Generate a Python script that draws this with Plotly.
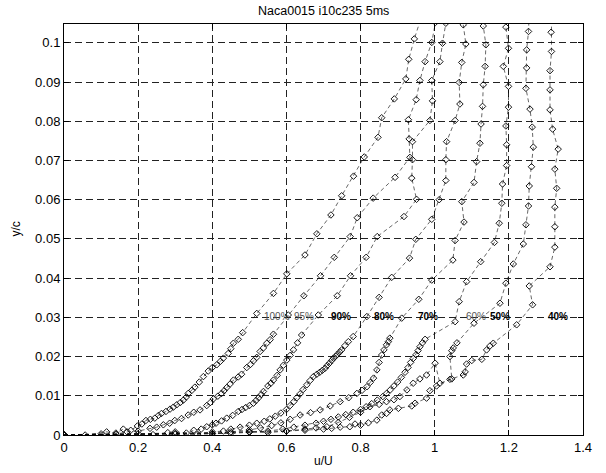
import plotly.graph_objects as go

# Boundary-layer velocity profiles, NACA 0015, station = % chord
stations = ["100%", "95%", "90%", "80%", "70%", "60%", "50%", "40%"]

u_100 = [0.0, 0.057, 0.115, 0.140, 0.160, 0.180, 0.198, 0.210, 0.221, 0.233, 0.245, 0.255, 0.263, 0.275, 0.286, 0.295, 0.304, 0.314, 0.322, 0.330, 0.335, 0.345, 0.353, 0.365, 0.376, 0.389, 0.400, 0.412, 0.422, 0.430, 0.443, 0.450, 0.457, 0.470, 0.482,
         0.520, 0.565, 0.601, 0.650, 0.682, 0.720, 0.749, 0.781, 0.810, 0.847, 0.857, 0.891, 0.922, 0.930, 0.945, 0.962]
y_100 = [0.0, 0.0, 0.0008, 0.0005, 0.0015, 0.0012, 0.0023, 0.0028, 0.0037, 0.0040, 0.0043, 0.0050, 0.0055, 0.0060, 0.0066, 0.0071, 0.0077, 0.0083, 0.0089, 0.0097, 0.0106, 0.0114, 0.0122, 0.0135, 0.0149, 0.0163, 0.0172, 0.0179, 0.0188, 0.0196, 0.0208, 0.0220, 0.0234, 0.0244, 0.0261,
         0.0310, 0.0361, 0.0411, 0.0459, 0.0513, 0.0561, 0.0610, 0.0660, 0.0709, 0.0759, 0.0809, 0.0857, 0.0908, 0.0958, 0.1010, 0.1060]

u_95 = [0.0, 0.100, 0.140, 0.170, 0.200, 0.232, 0.250, 0.268, 0.285, 0.299, 0.317, 0.335, 0.350, 0.367, 0.385, 0.395, 0.403, 0.415, 0.425, 0.432, 0.439, 0.448, 0.457, 0.470, 0.479, 0.493, 0.503, 0.511, 0.520, 0.529, 0.538, 0.547, 0.556, 0.565,
        0.605, 0.647, 0.692, 0.729, 0.772, 0.791, 0.834, 0.893, 0.933, 0.931, 0.929, 0.950, 0.960, 0.974, 0.992, 1.002]
y_95 = [0.0, 0.0003, 0.0002, 0.0008, 0.0010, 0.0017, 0.0020, 0.0026, 0.0030, 0.0037, 0.0042, 0.0051, 0.0058, 0.0064, 0.0075, 0.0083, 0.0092, 0.0099, 0.0106, 0.0113, 0.0121, 0.0130, 0.0140, 0.0148, 0.0155, 0.0172, 0.0180, 0.0189, 0.0198, 0.0213, 0.0222, 0.0234, 0.0243, 0.0257,
        0.0306, 0.0355, 0.0406, 0.0453, 0.0506, 0.0554, 0.0604, 0.0657, 0.0708, 0.0755, 0.0804, 0.0855, 0.0904, 0.0952, 0.1001, 0.1052]

u_90 = [0.0, 0.200, 0.240, 0.280, 0.300, 0.330, 0.350, 0.370, 0.385, 0.400, 0.410, 0.425, 0.439, 0.455, 0.470, 0.480, 0.490, 0.500, 0.511, 0.518, 0.525, 0.532, 0.538, 0.550, 0.558, 0.565, 0.575, 0.583, 0.592, 0.601, 0.610, 0.619, 0.630, 0.641,
        0.686, 0.737, 0.773, 0.815, 0.845, 0.917, 0.951, 0.938, 0.940, 0.940, 0.987, 0.994, 0.992, 1.014, 1.021, 1.030]
y_90 = [0.0, 0.0003, 0.0001, 0.0006, 0.0008, 0.0005, 0.0012, 0.0015, 0.0021, 0.0026, 0.0030, 0.0036, 0.0043, 0.0050, 0.0060, 0.0065, 0.0070, 0.0075, 0.0081, 0.0088, 0.0095, 0.0103, 0.0111, 0.0125, 0.0132, 0.0140, 0.0152, 0.0166, 0.0178, 0.0191, 0.0203, 0.0217, 0.0235, 0.0255,
        0.0306, 0.0355, 0.0406, 0.0453, 0.0506, 0.0557, 0.0601, 0.0655, 0.0702, 0.0748, 0.0802, 0.0852, 0.0904, 0.0952, 0.0999, 0.1050]

u_80 = [0.0, 0.300, 0.360, 0.400, 0.430, 0.450, 0.475, 0.500, 0.520, 0.540, 0.555, 0.570, 0.585, 0.600, 0.610, 0.620, 0.628, 0.637, 0.645, 0.655, 0.664, 0.673, 0.682, 0.690, 0.697, 0.704, 0.710, 0.716, 0.722, 0.727, 0.733, 0.738, 0.744, 0.749, 0.758, 0.767, 0.780,
        0.817, 0.850, 0.884, 0.932, 0.949, 0.992, 1.012, 1.030, 1.030, 1.032, 1.055, 1.068, 1.066, 1.073, 1.084, 1.077]
y_80 = [0.0, 0.0004, 0.0002, 0.0008, 0.0010, 0.0015, 0.0020, 0.0025, 0.0030, 0.0035, 0.0041, 0.0048, 0.0056, 0.0065, 0.0075, 0.0085, 0.0095, 0.0105, 0.0116, 0.0128, 0.0139, 0.0149, 0.0155, 0.0160, 0.0165, 0.0170, 0.0177, 0.0183, 0.0190, 0.0196, 0.0201, 0.0206, 0.0212, 0.0217, 0.0228, 0.0238, 0.0251,
        0.0302, 0.0351, 0.0402, 0.0451, 0.0499, 0.0550, 0.0600, 0.0649, 0.0702, 0.0748, 0.0802, 0.0844, 0.0899, 0.0950, 0.0997, 0.1046]

u_70 = [0.0, 0.400, 0.450, 0.500, 0.530, 0.560, 0.585, 0.610, 0.637, 0.665, 0.691, 0.718, 0.745, 0.768, 0.790, 0.804, 0.817, 0.826, 0.835, 0.844, 0.850, 0.857, 0.863, 0.870, 0.875, 0.879,
        0.911, 0.957, 0.992, 1.049, 1.055, 1.079, 1.073, 1.106, 1.113, 1.122, 1.125, 1.129, 1.131, 1.136, 1.138, 1.131]
y_70 = [0.0, 0.0003, 0.0008, 0.0013, 0.0018, 0.0024, 0.0031, 0.0040, 0.0051, 0.0057, 0.0064, 0.0074, 0.0085, 0.0095, 0.0106, 0.0114, 0.0123, 0.0134, 0.0145, 0.0166, 0.0185, 0.0204, 0.0217, 0.0230, 0.0238, 0.0247,
        0.0298, 0.0346, 0.0395, 0.0446, 0.0496, 0.0543, 0.0595, 0.0644, 0.0697, 0.0744, 0.0793, 0.0838, 0.0893, 0.0940, 0.0995, 0.1043]

u_60 = [0.0, 0.450, 0.500, 0.550, 0.590, 0.620, 0.650, 0.680, 0.700, 0.720, 0.740, 0.760, 0.780, 0.800, 0.815, 0.830, 0.845, 0.860, 0.870, 0.880, 0.890, 0.900, 0.910, 0.920, 0.928, 0.935, 0.942, 0.950, 0.955, 0.960, 0.967, 0.974,
        1.055, 1.066, 1.086, 1.124, 1.161, 1.174, 1.181, 1.183, 1.194, 1.194, 1.192, 1.199, 1.199, 1.185, 1.199, 1.192]
y_60 = [0.0, 0.0004, 0.0007, 0.0010, 0.0015, 0.0020, 0.0025, 0.0030, 0.0035, 0.0040, 0.0046, 0.0052, 0.0058, 0.0065, 0.0072, 0.0080, 0.0089, 0.0098, 0.0106, 0.0115, 0.0125, 0.0135, 0.0147, 0.0160, 0.0172, 0.0185, 0.0195, 0.0205, 0.0215, 0.0225, 0.0235, 0.0244,
        0.0289, 0.0340, 0.0391, 0.0442, 0.0491, 0.0540, 0.0591, 0.0640, 0.0687, 0.0740, 0.0788, 0.0836, 0.0889, 0.0940, 0.0986, 0.1040]

u_50 = [0.0, 0.500, 0.600, 0.650, 0.680, 0.709, 0.740, 0.770, 0.800, 0.825, 0.850, 0.870, 0.890, 0.906, 0.925, 0.942, 0.960, 0.978, 1.001, 1.014, 1.046, 1.041, 1.046, 1.050, 1.060,
        1.106, 1.176, 1.192, 1.212, 1.239, 1.246, 1.253, 1.255, 1.261, 1.266, 1.263, 1.257, 1.246, 1.248, 1.248, 1.253, 1.255]
y_50 = [0.0, 0.0008, 0.0010, 0.0015, 0.0018, 0.0021, 0.0032, 0.0045, 0.0058, 0.0072, 0.0078, 0.0085, 0.0090, 0.0098, 0.0115, 0.0132, 0.0143, 0.0153, 0.0183, 0.0132, 0.0143, 0.0200, 0.0215, 0.0222, 0.0235,
        0.0285, 0.0336, 0.0387, 0.0436, 0.0487, 0.0536, 0.0584, 0.0635, 0.0684, 0.0734, 0.0785, 0.0831, 0.0884, 0.0936, 0.0982, 0.1029, 0.1080]

u_40 = [0.0, 0.300, 0.400, 0.500, 0.550, 0.600, 0.650, 0.700, 0.722, 0.745, 0.771, 0.785, 0.800, 0.821, 0.844, 0.857, 0.870, 0.879, 0.902, 0.938, 0.947, 0.978, 0.987, 1.005, 1.041, 1.077, 1.082, 1.086, 1.100, 1.127, 1.140, 1.149, 1.158,
        1.221, 1.264, 1.255, 1.311, 1.324, 1.324, 1.324, 1.329, 1.324, 1.333, 1.318, 1.311, 1.311, 1.311, 1.315, 1.314, 1.315]
y_40 = [0.0, 0.0002, 0.0004, 0.0008, 0.0006, 0.0010, 0.0012, 0.0015, 0.0017, 0.0020, 0.0021, 0.0028, 0.0025, 0.0031, 0.0038, 0.0051, 0.0055, 0.0064, 0.0068, 0.0074, 0.0081, 0.0094, 0.0113, 0.0125, 0.0142, 0.0153, 0.0161, 0.0181, 0.0190, 0.0193, 0.0217, 0.0227, 0.0234,
        0.0281, 0.0332, 0.0380, 0.0429, 0.0479, 0.0531, 0.0581, 0.0629, 0.0678, 0.0729, 0.0780, 0.0829, 0.0880, 0.0929, 0.0978, 0.1027, 0.1080]

profiles_u = [u_100, u_95, u_90, u_80, u_70, u_60, u_50, u_40]
profiles_y = [y_100, y_95, y_90, y_80, y_70, y_60, y_50, y_40]

# station labels along y/c = 0.03
label_u = [0.534, 0.615, 0.715, 0.831, 0.950, 1.079, 1.144, 1.300]
label_y = 0.0303
label_bold = [False, False, True, True, True, False, True, True]

x_ticks = [0, 0.2, 0.4, 0.6, 0.8, 1.0, 1.2, 1.4]
x_ticktext = ["0", "0.2", "0.4", "0.6", "0.8", "1", "1.2", "1.4"]
y_ticks = [0, 0.01, 0.02, 0.03, 0.04, 0.05, 0.06, 0.07, 0.08, 0.09, 0.1]
y_ticktext = ["0", "0.01", "0.02", "0.03", "0.04", "0.05", "0.06", "0.07", "0.08", "0.09", "0.1"]

FONT = "Liberation Sans, Arial, Helvetica, sans-serif"

fig = go.Figure()
for name, u, y in zip(stations, profiles_u, profiles_y):
    fig.add_trace(go.Scatter(
        x=u, y=y, name=name, mode="lines+markers",
        line=dict(color="black", width=0.6, dash="4px,3px"),
        marker=dict(symbol="diamond-open", size=5, color="black", line=dict(width=0.9, color="black")),
        showlegend=False,
    ))

for text, u, bold in zip(stations, label_u, label_bold):
    fig.add_annotation(
        x=u, y=label_y, xref="x", yref="y", text=f"<b>{text}</b>" if bold else text,
        showarrow=False, xanchor="left", yanchor="middle",
        font=dict(family=FONT, size=10, color="black" if bold else "#555555"),
    )

axis_common = dict(
    showline=True, linecolor="black", linewidth=1, mirror="ticks",
    ticks="inside", ticklen=5, tickcolor="black",
    showgrid=True, gridcolor="#222222", gridwidth=0.8, griddash="7px,4px",
    zeroline=False, tickfont=dict(family=FONT, size=13, color="black"),
)

fig.update_xaxes(range=[0, 1.4], tickvals=x_ticks, ticktext=x_ticktext, **axis_common)
fig.update_yaxes(range=[0, 0.1048], tickvals=y_ticks, ticktext=y_ticktext, **axis_common)

fig.add_annotation(x=0.5, y=1, xref="paper", yref="paper", yshift=13, text="Naca0015 i10c235 5ms",
                   showarrow=False, xanchor="center", yanchor="middle",
                   font=dict(family=FONT, size=12.5, color="black"))
fig.add_annotation(x=0.5, y=0, xref="paper", yref="paper", yshift=-26, text="u/U",
                   showarrow=False, xanchor="center", yanchor="middle",
                   font=dict(family=FONT, size=12, color="black"))
fig.add_annotation(x=0, y=0.5, xref="paper", yref="paper", xshift=-49, text="y/c", textangle=-90,
                   showarrow=False, xanchor="center", yanchor="middle",
                   font=dict(family=FONT, size=12, color="black"))

fig.update_layout(
    width=606, height=473,
    margin=dict(l=64, r=23, t=24, b=38),
    paper_bgcolor="white", plot_bgcolor="white",
)

fig.write_html("out.html")
